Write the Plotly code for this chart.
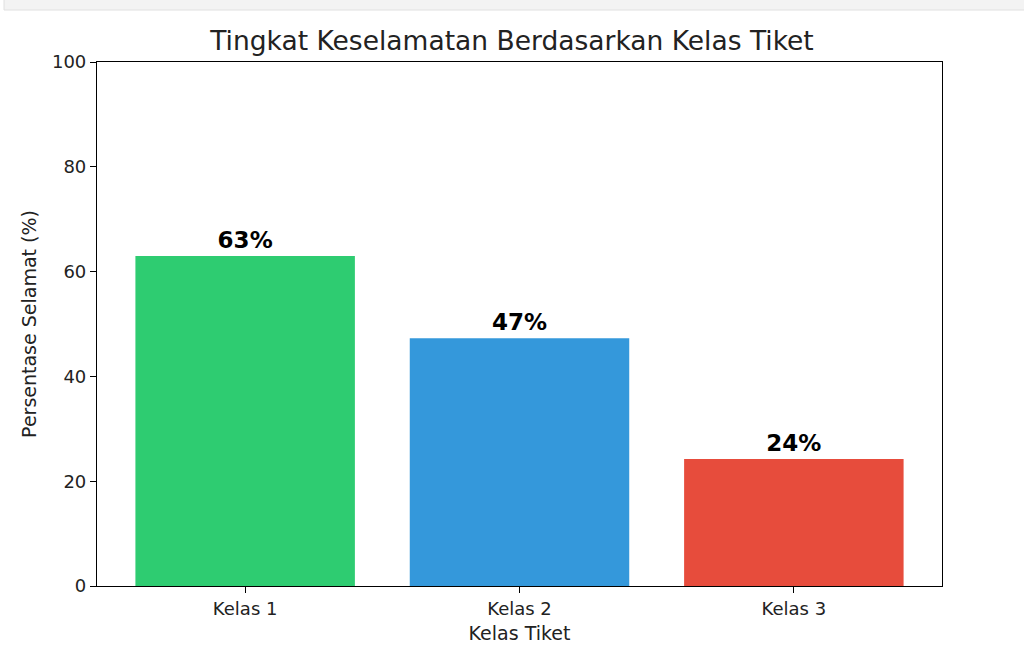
from plotly import graph_objects as go

kelas = ['Kelas 1', 'Kelas 2', 'Kelas 3']
persen_selamat = [62.96, 47.28, 24.24]
label_persen = ['63%', '47%', '24%']
warna = ['#2ecc71', '#3498db', '#e74c3c']

fig = go.Figure()

fig.add_trace(go.Bar(
    x=kelas,
    y=persen_selamat,
    marker=dict(color=warna, line=dict(width=0)),
    width=0.8,
    text=['<b>' + t + '</b>' for t in label_persen],
    textposition='outside',
    textfont=dict(size=23, color='black', family='DejaVu Sans'),
    cliponaxis=False,
    showlegend=False))

axis_style = dict(
    showline=True, linecolor='black', linewidth=1.2, mirror=True,
    ticks='outside', ticklen=6, tickcolor='black',
    showgrid=False, zeroline=False,
    tickfont=dict(size=18, color='#222', family='DejaVu Sans'))

fig.update_layout(
    width=1024, height=654,
    margin=dict(l=97, r=82, t=62, b=68),
    paper_bgcolor='white', plot_bgcolor='white',
    font=dict(family='DejaVu Sans', color='#222'),
    title=dict(text='Tingkat Keselamatan Berdasarkan Kelas Tiket',
               x=0.5, xanchor='center', y=1 - 41 / 654, yanchor='middle',
               font=dict(size=26.5, color='#222')),
    xaxis=dict(axis_style, range=[-0.54, 2.54],
               title=dict(text='Kelas Tiket', font=dict(size=19), standoff=8)),
    yaxis=dict(axis_style, range=[0, 100], tickvals=[0, 20, 40, 60, 80, 100],
               title=dict(text='Persentase Selamat (%)', font=dict(size=19), standoff=10)),
    shapes=[dict(type='rect', xref='paper', yref='paper',
                 x0=-93 / 845, x1=(1024 - 97) / 845 + 0.01,
                 y0=1 + 52 / 524, y1=1 + 63 / 524,
                 fillcolor='#f3f3f3', line=dict(color='#e0e0e0', width=1), layer='below')])

# page body has a default 8px margin; drop it so the figure sits at 0,0
fig.write_html("out.html", config={'displayModeBar': False},
               post_script="document.body.style.margin='0px';")
